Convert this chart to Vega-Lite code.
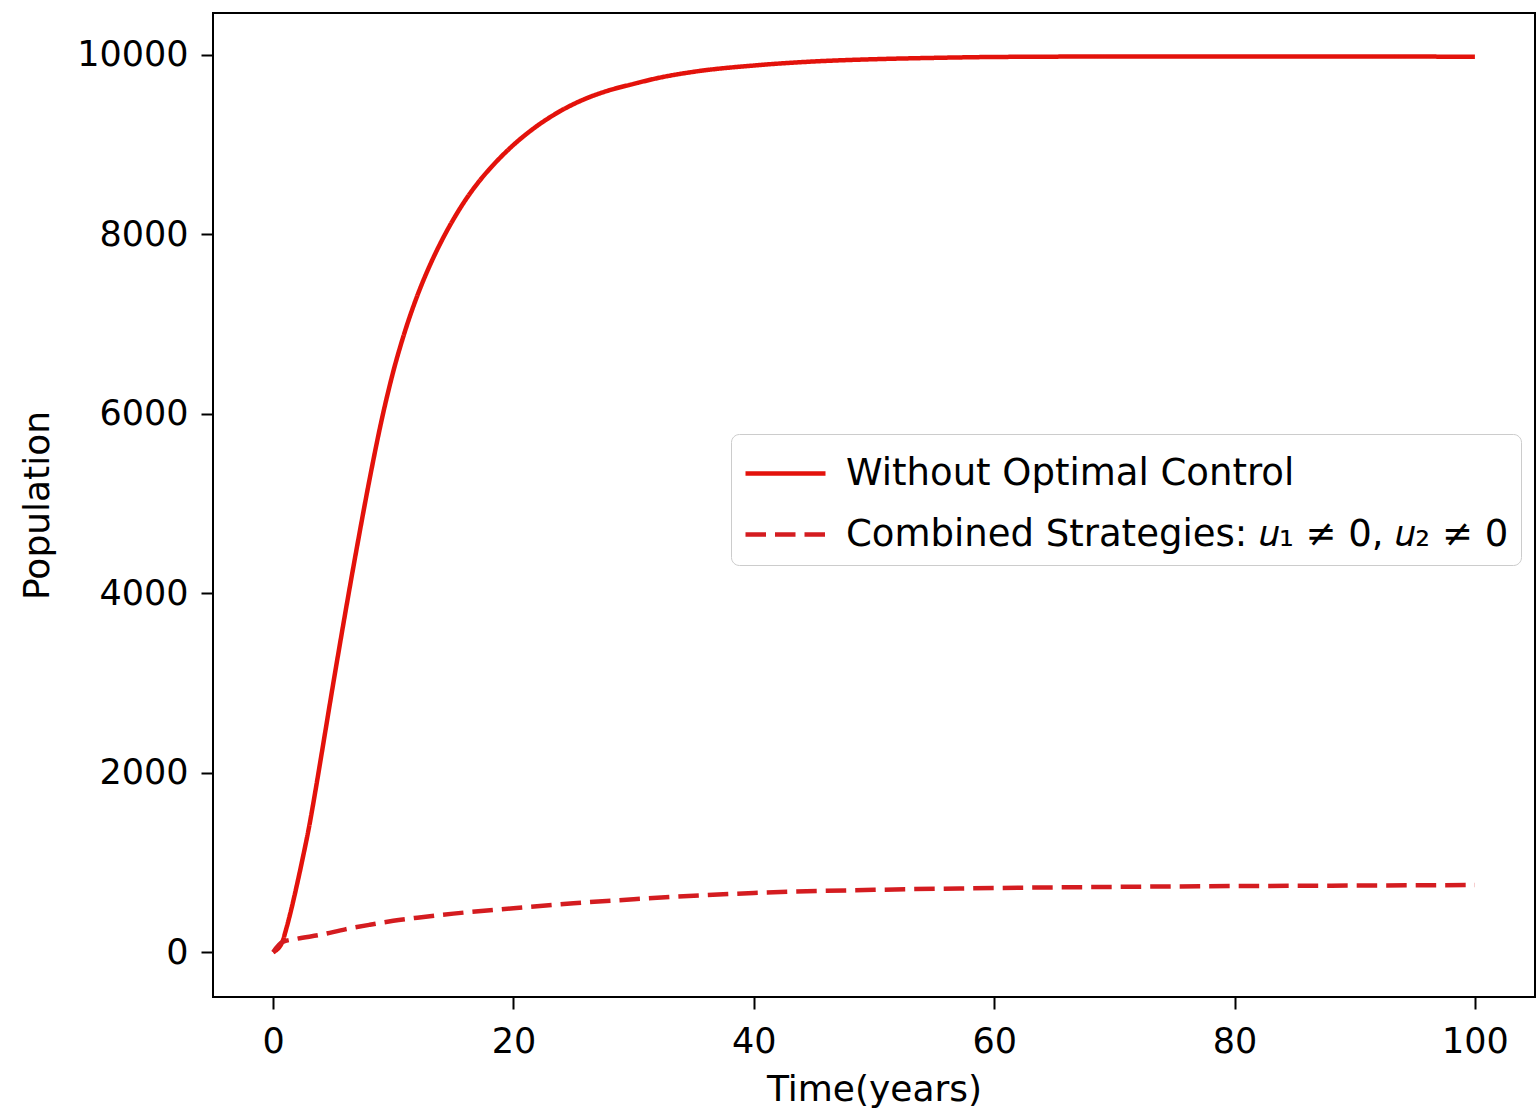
{
  "$schema": "https://vega.github.io/schema/vega-lite/v6.json",
  "autosize": "none",
  "padding": {"left": 213, "top": 13, "right": 2, "bottom": 114},
  "width": 1322,
  "height": 984,
  "background": "white",
  "config": {
    "font": "DejaVu Sans",
    "view": {"stroke": "black", "strokeWidth": 2},
    "axis": {
      "grid": false,
      "domain": false,
      "ticks": true,
      "tickColor": "black",
      "tickWidth": 2,
      "tickSize": 12,
      "labelFont": "DejaVu Sans",
      "labelFontSize": 35,
      "labelColor": "black",
      "titleFont": "DejaVu Sans",
      "titleFontSize": 36,
      "titleFontWeight": "normal",
      "titleColor": "black"
    }
  },
  "datasets": {
    "pop": [
      {"t": 0, "P": 0, "s": "Without Optimal Control"},
      {"t": 0.8, "P": 125, "s": "Without Optimal Control"},
      {"t": 1.0, "P": 215, "s": "Without Optimal Control"},
      {"t": 1.5, "P": 470, "s": "Without Optimal Control"},
      {"t": 2.0, "P": 760, "s": "Without Optimal Control"},
      {"t": 2.5, "P": 1070, "s": "Without Optimal Control"},
      {"t": 3.0, "P": 1400, "s": "Without Optimal Control"},
      {"t": 3.5, "P": 1780, "s": "Without Optimal Control"},
      {"t": 4, "P": 2180, "s": "Without Optimal Control"},
      {"t": 5, "P": 2990, "s": "Without Optimal Control"},
      {"t": 6, "P": 3775, "s": "Without Optimal Control"},
      {"t": 7, "P": 4530, "s": "Without Optimal Control"},
      {"t": 8, "P": 5250, "s": "Without Optimal Control"},
      {"t": 9, "P": 5910, "s": "Without Optimal Control"},
      {"t": 10, "P": 6470, "s": "Without Optimal Control"},
      {"t": 11, "P": 6930, "s": "Without Optimal Control"},
      {"t": 12, "P": 7315, "s": "Without Optimal Control"},
      {"t": 13, "P": 7640, "s": "Without Optimal Control"},
      {"t": 14, "P": 7920, "s": "Without Optimal Control"},
      {"t": 15, "P": 8165, "s": "Without Optimal Control"},
      {"t": 16, "P": 8380, "s": "Without Optimal Control"},
      {"t": 17, "P": 8565, "s": "Without Optimal Control"},
      {"t": 18, "P": 8725, "s": "Without Optimal Control"},
      {"t": 19, "P": 8867, "s": "Without Optimal Control"},
      {"t": 20, "P": 8995, "s": "Without Optimal Control"},
      {"t": 22, "P": 9210, "s": "Without Optimal Control"},
      {"t": 24, "P": 9380, "s": "Without Optimal Control"},
      {"t": 26, "P": 9510, "s": "Without Optimal Control"},
      {"t": 28, "P": 9605, "s": "Without Optimal Control"},
      {"t": 30, "P": 9675, "s": "Without Optimal Control"},
      {"t": 32, "P": 9740, "s": "Without Optimal Control"},
      {"t": 35, "P": 9810, "s": "Without Optimal Control"},
      {"t": 40, "P": 9880, "s": "Without Optimal Control"},
      {"t": 45, "P": 9925, "s": "Without Optimal Control"},
      {"t": 50, "P": 9950, "s": "Without Optimal Control"},
      {"t": 55, "P": 9965, "s": "Without Optimal Control"},
      {"t": 60, "P": 9975, "s": "Without Optimal Control"},
      {"t": 70, "P": 9980, "s": "Without Optimal Control"},
      {"t": 80, "P": 9980, "s": "Without Optimal Control"},
      {"t": 90, "P": 9980, "s": "Without Optimal Control"},
      {"t": 100, "P": 9978, "s": "Without Optimal Control"},
      {"t": 0, "P": 0, "s": "Combined Strategies: 𝑢₁ ≠ 0, 𝑢₂ ≠ 0"},
      {"t": 0.8, "P": 115, "s": "Combined Strategies: 𝑢₁ ≠ 0, 𝑢₂ ≠ 0"},
      {"t": 2, "P": 150, "s": "Combined Strategies: 𝑢₁ ≠ 0, 𝑢₂ ≠ 0"},
      {"t": 4, "P": 195, "s": "Combined Strategies: 𝑢₁ ≠ 0, 𝑢₂ ≠ 0"},
      {"t": 6, "P": 255, "s": "Combined Strategies: 𝑢₁ ≠ 0, 𝑢₂ ≠ 0"},
      {"t": 8, "P": 305, "s": "Combined Strategies: 𝑢₁ ≠ 0, 𝑢₂ ≠ 0"},
      {"t": 10, "P": 350, "s": "Combined Strategies: 𝑢₁ ≠ 0, 𝑢₂ ≠ 0"},
      {"t": 12, "P": 385, "s": "Combined Strategies: 𝑢₁ ≠ 0, 𝑢₂ ≠ 0"},
      {"t": 15, "P": 430, "s": "Combined Strategies: 𝑢₁ ≠ 0, 𝑢₂ ≠ 0"},
      {"t": 20, "P": 490, "s": "Combined Strategies: 𝑢₁ ≠ 0, 𝑢₂ ≠ 0"},
      {"t": 25, "P": 545, "s": "Combined Strategies: 𝑢₁ ≠ 0, 𝑢₂ ≠ 0"},
      {"t": 30, "P": 590, "s": "Combined Strategies: 𝑢₁ ≠ 0, 𝑢₂ ≠ 0"},
      {"t": 35, "P": 630, "s": "Combined Strategies: 𝑢₁ ≠ 0, 𝑢₂ ≠ 0"},
      {"t": 40, "P": 660, "s": "Combined Strategies: 𝑢₁ ≠ 0, 𝑢₂ ≠ 0"},
      {"t": 50, "P": 695, "s": "Combined Strategies: 𝑢₁ ≠ 0, 𝑢₂ ≠ 0"},
      {"t": 60, "P": 715, "s": "Combined Strategies: 𝑢₁ ≠ 0, 𝑢₂ ≠ 0"},
      {"t": 70, "P": 728, "s": "Combined Strategies: 𝑢₁ ≠ 0, 𝑢₂ ≠ 0"},
      {"t": 80, "P": 737, "s": "Combined Strategies: 𝑢₁ ≠ 0, 𝑢₂ ≠ 0"},
      {"t": 90, "P": 743, "s": "Combined Strategies: 𝑢₁ ≠ 0, 𝑢₂ ≠ 0"},
      {"t": 100, "P": 748, "s": "Combined Strategies: 𝑢₁ ≠ 0, 𝑢₂ ≠ 0"}
    ]
  },
  "data": {"name": "pop"},
  "mark": {"type": "line", "strokeWidth": 4.5, "interpolate": "monotone", "clip": true},
  "encoding": {
    "x": {
      "field": "t",
      "type": "quantitative",
      "scale": {"domain": [-5, 105], "nice": false, "zero": false},
      "axis": {"values": [0, 20, 40, 60, 80, 100], "title": "Time(years)", "labelPadding": 15, "titlePadding": 13}
    },
    "y": {
      "field": "P",
      "type": "quantitative",
      "scale": {"domain": [-499, 10465], "nice": false, "zero": false},
      "axis": {"values": [0, 2000, 4000, 6000, 8000, 10000], "format": "d", "title": "Population", "labelPadding": 13, "titlePadding": 20}
    },
    "color": {
      "field": "s",
      "type": "nominal",
      "scale": {
        "domain": ["Without Optimal Control", "Combined Strategies: 𝑢₁ ≠ 0, 𝑢₂ ≠ 0"],
        "range": ["#e3120b", "#d41c20"]
      },
      "legend": {
        "title": null,
        "orient": "none",
        "legendX": 518,
        "legendY": 421,
        "symbolType": "M-1,0H2.2",
        "symbolSize": 2500,
        "symbolStrokeWidth": 4.5,
        "labelFontSize": 37,
        "labelFont": "DejaVu Sans",
        "labelColor": "black",
        "labelOffset": 48,
        "labelLimit": 1000,
        "rowPadding": 15,
        "padding": 12,
        "strokeColor": "#cccccc",
        "fillColor": "white",
        "cornerRadius": 8
      }
    },
    "strokeDash": {
      "field": "s",
      "type": "nominal",
      "scale": {
        "domain": ["Without Optimal Control", "Combined Strategies: 𝑢₁ ≠ 0, 𝑢₂ ≠ 0"],
        "range": [[1, 0], [20.5, 9]]
      },
      "legend": null
    }
  }
}
